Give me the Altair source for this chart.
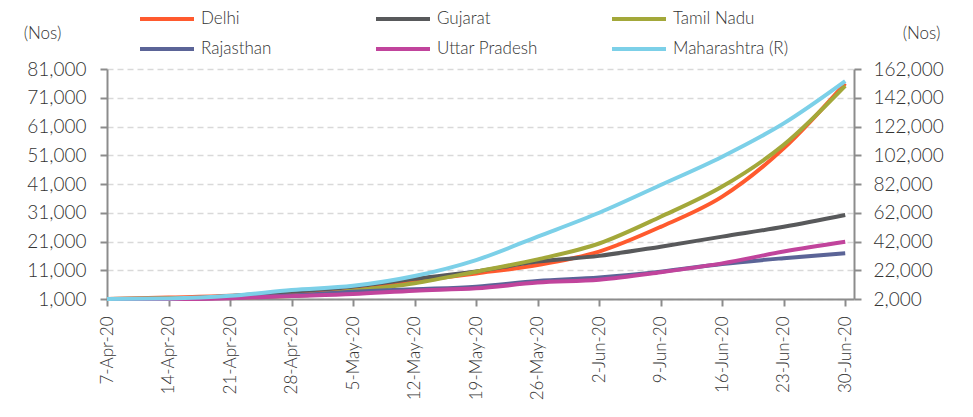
import altair as alt
import pandas as pd
from datetime import datetime, timezone

# ---- data ----
dates = ["2020-04-07", "2020-04-14", "2020-04-21", "2020-04-28", "2020-05-05",
         "2020-05-12", "2020-05-19", "2020-05-26", "2020-06-02", "2020-06-09",
         "2020-06-16", "2020-06-23", "2020-06-30"]

delhi = [1000, 1500, 2100, 3300, 4500, 7300, 9900, 12800, 17500, 26100, 36600, 53400, 76000]
gujarat = [1000, 1100, 2000, 3600, 5300, 8000, 10600, 14000, 16000, 19200, 22700, 26100, 30200]
tamil_nadu = [1000, 1200, 1500, 2000, 3900, 6500, 10500, 14800, 20300, 29600, 40100, 54600, 75100]
rajasthan = [1000, 1000, 1500, 2200, 3500, 4400, 5300, 7300, 8500, 10500, 13200, 15200, 16900]
uttar_pradesh = [1000, 1000, 1300, 2000, 2700, 3900, 4700, 6700, 7700, 10300, 13400, 17500, 20900]
maharashtra = [2000, 2400, 4200, 8300, 11200, 18000, 29100, 45400, 62000, 81300, 101000, 124200, 153600]

states = ["Delhi", "Gujarat", "Tamil Nadu", "Rajasthan", "Uttar Pradesh", "Maharashtra (R)"]
colors = ["#FF5A2E", "#58595B", "#A3A83A", "#5B6497", "#C1449C", "#7CD0E8"]
series = [delhi, gujarat, tamil_nadu, rajasthan, uttar_pradesh, maharashtra]

left_ticks = list(range(1000, 81001, 10000))
right_ticks = list(range(2000, 162001, 20000))

rows = []
for s, vals in zip(states, series):
    for d, v in zip(dates, vals):
        rows.append({"date": d, "state": s, "value": v})
df = pd.DataFrame(rows)

def ms(d):
    return int(datetime.strptime(d, "%Y-%m-%d").replace(tzinfo=timezone.utc).timestamp() * 1000)

x_ticks = [ms(d) for d in dates]

FONT = "Lato"
GRAY = "#8c8c8c"
TXT = "#333333"

x_enc = alt.X(
    "date:T",
    scale=alt.Scale(type="utc", domain=[ms("2020-04-07"), ms("2020-07-01")]),
    axis=alt.Axis(
        values=x_ticks, labelExpr="utcFormat(datum.value, '%-d-%b-%y')", title=None,
        labelAngle=-90, labelAlign="right", labelBaseline="middle",
        labelPadding=10, labelFontSize=17, grid=False,
    ),
)

color_enc = alt.Color(
    "state:N",
    scale=alt.Scale(domain=states, range=colors),
    legend=alt.Legend(
        title=None, orient="none", legendX=49, legendY=-61,
        direction="horizontal", columns=3, gridAlign="all",
        symbolType="M-3,0H3", symbolSize=324, symbolStrokeWidth=4,
        labelFont=FONT, labelFontSize=17, labelFontWeight=300,
        labelColor=TXT, labelOffset=23,
        columnPadding=51, rowPadding=11,
    ),
)

left = alt.Chart(df).transform_filter(
    alt.datum.state != "Maharashtra (R)"
).mark_line(interpolate="monotone", strokeWidth=4).encode(
    x=x_enc,
    y=alt.Y(
        "value:Q",
        scale=alt.Scale(domain=[1000, 81000], nice=False, zero=False),
        axis=alt.Axis(
            values=left_ticks, format=",d", title="(Nos)", orient="left",
            titleAngle=0, titleX=-65, titleY=-36, titleAlign="center",
            titleBaseline="middle", titleFont=FONT, titleFontSize=17,
            titleFontWeight=300, titleColor=TXT,
            grid=True, gridDash=[6, 4], gridColor="#d9d9d9", gridWidth=1.5,
            labelPadding=14,
        ),
    ),
    color=color_enc,
)

right = alt.Chart(df).transform_filter(
    alt.datum.state == "Maharashtra (R)"
).mark_line(interpolate="monotone", strokeWidth=4).encode(
    x=x_enc,
    y=alt.Y(
        "value:Q",
        scale=alt.Scale(domain=[2000, 162000], nice=False, zero=False),
        axis=alt.Axis(
            values=right_ticks, format=",d", title="(Nos)", orient="right",
            titleAngle=0, titleX=67, titleY=-36, titleAlign="center",
            titleBaseline="middle", titleFont=FONT, titleFontSize=17,
            titleFontWeight=300, titleColor=TXT,
            grid=False, labelPadding=12,
        ),
    ),
    color=color_enc,
)

chart = alt.layer(left, right).resolve_scale(y="independent").properties(
    width=747, height=230,
    autosize=alt.AutoSizeParams(type="none"),
    padding={"left": 99, "top": 61, "right": 111, "bottom": 110},
).configure_view(stroke=None).configure_axis(
    domainColor=GRAY, domainWidth=2, tickColor=GRAY, tickWidth=2, tickSize=7,
    labelFont=FONT, labelFontSize=19, labelFontWeight=300, labelColor=TXT,
)

chart.save("out.html", embed_options={"renderer": "svg", "actions": False})
